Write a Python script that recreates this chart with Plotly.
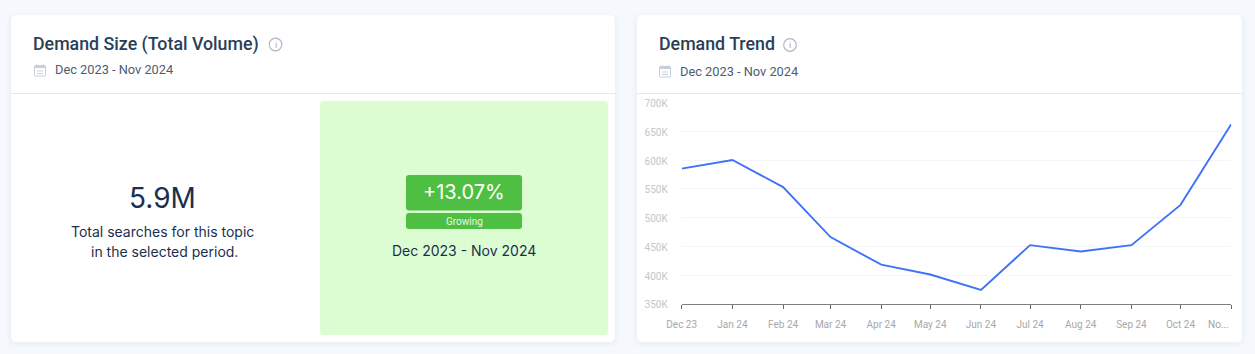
import plotly.graph_objects as go

W, H = 1255, 354

# Data
months = ["2023-12-01", "2024-01-01", "2024-02-01", "2024-03-01", "2024-04-01", "2024-05-01",
          "2024-06-01", "2024-07-01", "2024-08-01", "2024-09-01", "2024-10-01", "2024-11-01"]
volume = [585000, 600000, 553000, 466000, 418000, 401000,
          374000, 452000, 441000, 452000, 522000, 662000]
month_labels = ["Dec 23", "Jan 24", "Feb 24", "Mar 24", "Apr 24", "May 24",
                "Jun 24", "Jul 24", "Aug 24", "Sep 24", "Oct 24", ""]
y_ticks = [350000, 400000, 450000, 500000, 550000, 600000, 650000, 700000]
y_labels = ["350K", "400K", "450K", "500K", "550K", "600K", "650K", "700K"]
period = "Dec 2023 - Nov 2024"


def px(x):
    return x / W


def py(y):
    return 1 - y / H


def rrect(x0, y0, x1, y1, r, fill, line=None, lw=0):
    X0, X1, Y0, Y1 = px(x0), px(x1), py(y0), py(y1)
    rx, ry = r / W, r / H
    path = (f"M{X0+rx},{Y0} L{X1-rx},{Y0} Q{X1},{Y0} {X1},{Y0-ry} L{X1},{Y1+ry} Q{X1},{Y1} {X1-rx},{Y1} "
            f"L{X0+rx},{Y1} Q{X0},{Y1} {X0},{Y1+ry} L{X0},{Y0-ry} Q{X0},{Y0} {X0+rx},{Y0} Z")
    return dict(type="path", xref="paper", yref="paper", path=path, fillcolor=fill,
                line=dict(color=line or "rgba(0,0,0,0)", width=lw), layer="below")


def seg(x0, y0, x1, y1, color, lw=1):
    return dict(type="line", xref="paper", yref="paper", x0=px(x0), x1=px(x1), y0=py(y0), y1=py(y1),
                line=dict(color=color, width=lw), layer="below")


def circle(cx, cy, r, color, lw=1.2):
    return dict(type="circle", xref="paper", yref="paper", x0=px(cx - r), x1=px(cx + r), y0=py(cy - r),
                y1=py(cy + r), line=dict(color=color, width=lw), fillcolor="rgba(0,0,0,0)", layer="below")


def calendar(x, y):
    c = "#c6cfdc"
    return [
        rrect(x + 0.5, y + 1.5, x + 11.5, y + 12, 1, "rgba(0,0,0,0)", c, 1),
        rrect(x + 0.5, y + 1.5, x + 11.5, y + 4, 0.5, c),
        seg(x + 3, y, x + 3, y + 2, c, 1),
        seg(x + 9, y, x + 9, y + 2, c, 1),
        seg(x + 3, y + 7, x + 9, y + 7, c, 1),
        seg(x + 3, y + 9.5, x + 9, y + 9.5, c, 1),
    ]


def text(x, y, s, size, color, family="Roboto", anchor="left", weight=None):
    f = dict(size=size, color=color, family=family)
    if weight:
        f["weight"] = weight
    return dict(xref="paper", yref="paper", x=px(x), y=py(y), text=s, showarrow=False, xanchor=anchor,
                yanchor="middle", font=f, align="center", borderpad=0, borderwidth=0)


shapes = []
for cx0, cx1 in [(11, 615), (637, 1242)]:
    for grow, alpha in [(5, 0.006), (3, 0.01), (1.5, 0.016)]:
        shapes.append(rrect(cx0 - grow, 15 - grow + 2, cx1 + grow, 342 + grow + 1, 6 + grow, f"rgba(60,80,120,{alpha})"))
    shapes.append(rrect(cx0, 15, cx1, 342, 6, "#ffffff"))
    shapes.append(seg(cx0, 93.5, cx1, 93.5, "#e6e8ec", 1))
shapes += [
    rrect(320, 101, 608, 335, 3, "#dcfdd1"),
    rrect(406, 175, 522, 210.5, 3, "#4fbf43"),
    rrect(406, 213, 522, 229, 3, "#4fbf43"),
    circle(275.5, 44.5, 6.3, "#b4b7bb"),
    circle(790, 45, 6.3, "#b4b7bb"),
]
shapes += calendar(34, 64) + calendar(659, 65)

head = "#2a3f57"
sub = "#4e5d72"
navy = "#1a2f50"
body = "Inter"
annotations = [
    text(33, 44, "Demand Size (Total Volume)", 17.8, head, weight=500),
    text(658.5, 44, "Demand Trend", 17.8, head, weight=500),
    text(55, 69.5, period, 12.8, sub),
    text(680, 71, period, 12.8, sub),
    text(275.5, 44.5, "i", 9, "#a6a9ad", anchor="center"),
    text(790, 45, "i", 9, "#a6a9ad", anchor="center"),
    text(162, 198, "5.9M", 28, navy, body, "center"),
    text(162, 231, "Total searches for this topic", 14, navy, body, "center"),
    text(164, 251, "in the selected period.", 14, navy, body, "center"),
    text(464, 192.5, "+13.07%", 20, "#ffffff", body, "center"),
    text(464, 221, "Growing", 10, "#e9f8e6", "Roboto", "center"),
    text(464, 250, period, 14, navy, body, "center"),
    dict(xref="x", yref="paper", x=months[-1], xshift=-13, y=py(324), text="No...", showarrow=False,
         xanchor="center", yanchor="middle", font=dict(size=10, color="#a3a3a3", family="Roboto")),
]

fig = go.Figure(
    go.Scatter(x=months, y=volume, mode="lines", line=dict(color="#3f73f7", width=1.9), hoverinfo="skip",
               cliponaxis=False)
)
fig.update_layout(
    width=W, height=H, autosize=False, margin=dict(l=0, r=0, t=0, b=0),
    paper_bgcolor="#f5f8fd", plot_bgcolor="rgba(0,0,0,0)", showlegend=False,
    shapes=shapes, annotations=annotations,
    font=dict(family="Roboto"),
    xaxis=dict(
        domain=[px(681.7), px(1231.2)], type="date", range=[months[0], months[-1]],
        tickmode="array", tickvals=months, ticktext=month_labels, tickangle=0,
        ticks="outside", ticklen=4, tickwidth=1, tickcolor="#666666", ticklabelstandoff=7,
        showline=True, linecolor="#808080", linewidth=1.3, showgrid=False, zeroline=False,
        tickfont=dict(size=10, color="#a8a8a8", family="Roboto"), anchor="y", automargin=False,
    ),
    yaxis=dict(
        domain=[py(303.8), py(102.5)], range=[y_ticks[0], y_ticks[-1]],
        tickmode="array", tickvals=y_ticks, ticktext=y_labels,
        ticks="", showline=False, showgrid=True, gridcolor="#f4f5f7", gridwidth=1, zeroline=False,
        tickfont=dict(size=10, color="#c4c6ca", family="Roboto"), ticklabelstandoff=13, ticklabelshift=1,
        anchor="x", automargin=False,
    ),
)
fig.write_html("out.html", config={"displayModeBar": False},
               post_script="document.body.style.margin='0';document.documentElement.style.overflow='hidden';window.dispatchEvent(new Event('resize'));")
